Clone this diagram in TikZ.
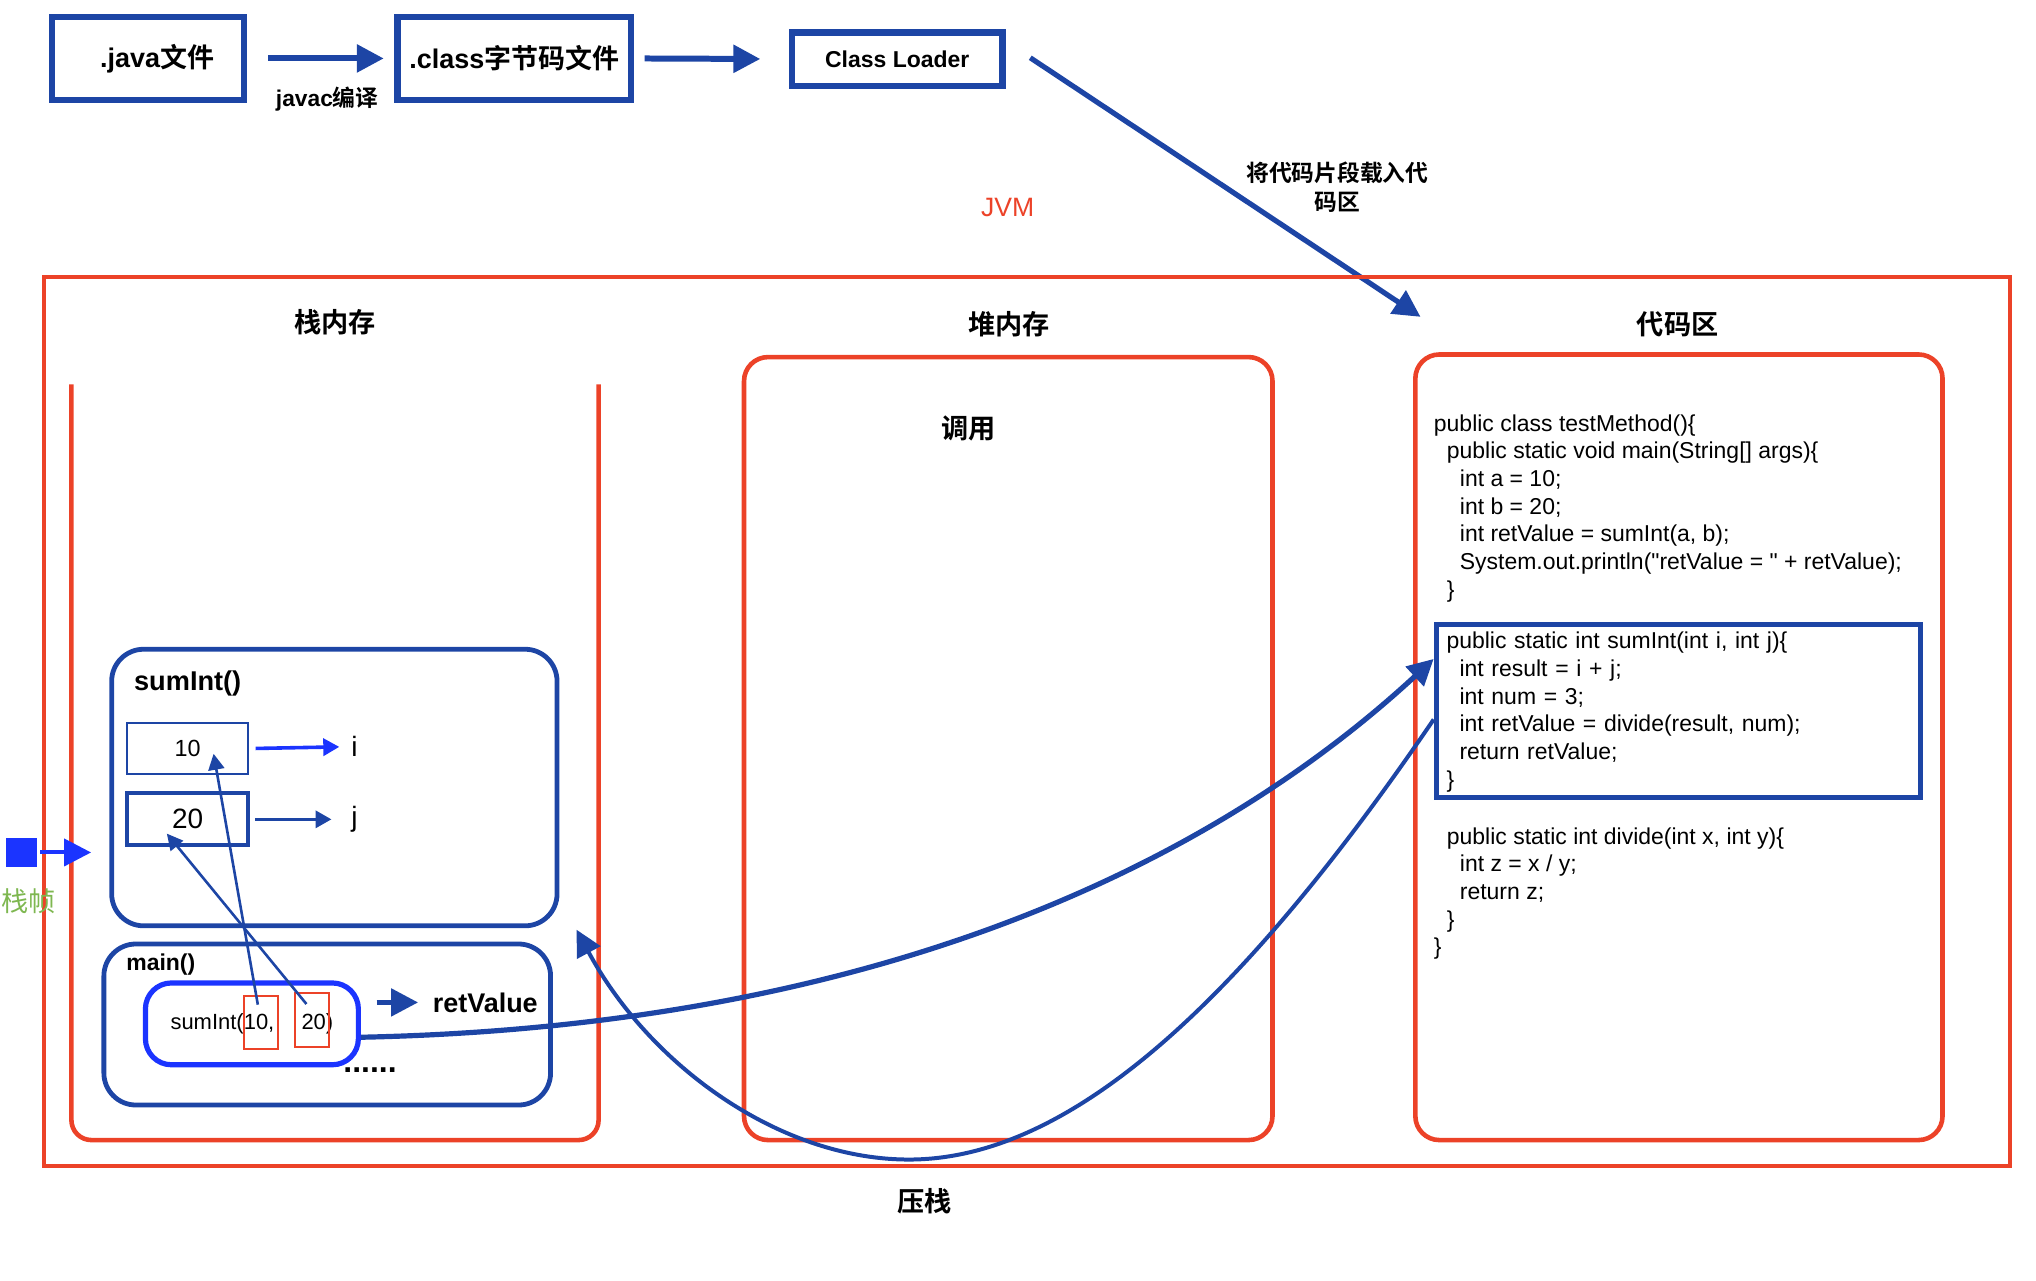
\documentclass[tikz,border=0pt]{standalone}
\usepackage{fontspec}
\setmainfont{Liberation Sans}[Ligatures=TeXOff]
\newfontfamily\cjk{Noto Sans CJK SC}[BoldFont={Noto Sans CJK SC Bold}]
\usetikzlibrary{arrows.meta,positioning,calc}
\definecolor{jvmblue}{RGB}{29,69,165}
\definecolor{callblue}{RGB}{27,52,255}
\definecolor{jvmred}{RGB}{236,66,40}
\definecolor{framegreen}{RGB}{126,183,80}
\newlength{\pxu}
\setlength{\pxu}{0.65pt}
\newcommand{\zh}[1]{{\cjk #1}}
\newcommand{\codeind}{\hspace*{6.5pt}}
\tikzset{
  jvm/file/.style={draw=jvmblue, line width=3.2pt, inner sep=0pt, font=\fontsize{13.5}{16}\selectfont\bfseries},
  jvm/region/.style={draw=jvmred, line width=2.3pt, rounded corners=12pt, inner sep=0pt},
  jvm/label/.style={inner sep=0pt, font=\fontsize{13.6}{16}\selectfont\bfseries},
  jvm/frame/.style={draw=jvmblue, line width=2.4pt, rounded corners=16pt, inner sep=0pt},
  jvm/slot/.style={draw=jvmblue, inner sep=0pt, minimum width=93\pxu},
  jvm/arg/.style={draw=jvmred, line width=1pt, inner sep=0pt, minimum width=26\pxu, minimum height=41\pxu},
  jvm/code/.style={align=left, inner sep=0pt, font=\fontsize{11.5}{13.85}\selectfont},
  jvm/flow/.style={draw=jvmblue, line width=3pt, -{Triangle[length=13.5pt,width=13.5pt]}},
  jvm/pass/.style={draw=jvmblue, line width=1.3pt, -{Triangle[length=8pt,width=8pt]}},
  jvm/bind/.style={line width=1.8pt, -{Triangle[length=8pt,width=8.5pt]}},
  jvm/call/.style={draw=jvmblue, line width=2.4pt, -{Triangle[length=13pt,width=13pt]}}
}

\begin{document}
\begin{tikzpicture}[x=0.65pt, y=-0.65pt]
  \useasboundingbox (0,0) rectangle (1568,986);

  % compile chain
  \node[jvm/file, minimum width=148\pxu, minimum height=64\pxu] (javafile) at (114,45) {\hspace*{9pt}.java\zh{文件}};
  \node[jvm/file, minimum width=180\pxu, minimum height=64\pxu] (classfile) at (396,45) {.class\zh{字节码文件}};
  \node[jvm/file, minimum width=162\pxu, minimum height=41\pxu, font=\fontsize{11.5}{14}\selectfont\bfseries] (loader) at (691,45.5) {Class Loader};
  \draw[jvm/flow, shorten <=16\pxu, shorten >=8\pxu] (javafile.east) -- (classfile.west);
  \draw[jvm/flow, shorten <=8\pxu, shorten >=22\pxu] (classfile.east) -- (loader.west);
  \node[jvm/label, font=\fontsize{11.4}{14}\selectfont\bfseries] (javac) at (252,76) {javac\zh{编译}};

  \coordinate (loadin) at (1094,244);
  \draw[jvm/flow, line width=2.6pt] ([xshift=19\pxu,yshift=1\pxu]loader.east) -- (loadin);
  \node[jvm/label, align=center, font=\fontsize{11.4}{14.3}\selectfont\bfseries] (loadtxt) at (1030,144) {\zh{将代码片段载入代}\\\zh{码区}};
  \node[inner sep=0pt, text=jvmred, font=\fontsize{13.3}{16}\selectfont] (jvmtxt) at (776,160) {JVM};

  % jvm memory areas
  \node[draw=jvmred, line width=2pt, inner sep=0pt, minimum width=1514\pxu, minimum height=685\pxu] (jvmarea) at (791,555.5) {};
  \draw[jvmred, line width=2.3pt, rounded corners=10pt] (55,296) |- (461,878) -- (461,296);
  \node[jvm/region, minimum width=407\pxu, minimum height=603\pxu] (heap) at (776.5,576.5) {};
  \node[jvm/region, minimum width=406\pxu, minimum height=605\pxu] (codearea) at (1293,575.5) {};
  \node[jvm/label] (stacktxt) at (258,248) {\zh{栈内存}};
  \node[jvm/label] (heaptxt) at (777,250) {\zh{堆内存}};
  \node[jvm/label] (codetxt) at (1292,250) {\zh{代码区}};
  \node[jvm/label] (calltxt) at (746,330) {\zh{调用}};
  \node[jvm/label] (pushtxt) at (712,925) {\zh{压栈}};

  % code area
  \node[jvm/code, anchor=north west] (code1) at (1104,319) {public class testMethod()\{\\
    \codeind public static void main(String[] args)\{\\
    \codeind\codeind int a = 10;\\
    \codeind\codeind int b = 20;\\
    \codeind\codeind int retValue = sumInt(a, b);\\
    \codeind\codeind System.out.println("retValue = " + retValue);\\
    \codeind\}};
  \node[jvm/code, draw=jvmblue, line width=2.5pt, inner xsep=5.2pt, text width=232pt, minimum height=133\pxu] (sumcode) at (1292.5,547.5) {\rule{0pt}{9.5pt}public static int sumInt(int i, int j)\{\\
    \codeind int result = i + j;\\
    \codeind int num = 3;\\
    \codeind int retValue = divide(result, num);\\
    \codeind return retValue;\\
    \}};
  \node[jvm/code, anchor=north west] (code3) at (1104,637) {\codeind public static int divide(int x, int y)\{\\
    \codeind\codeind int z = x / y;\\
    \codeind\codeind return z;\\
    \codeind\}\\
    \}};

  % stack frames
  \node[jvm/frame, minimum width=343\pxu, minimum height=213\pxu] (sumframe) at (257.5,606.5) {};
  \node[jvm/label, anchor=west] (sumname) at (103,526) {sumInt()};
  \node[jvm/slot, line width=1.2pt, minimum height=39\pxu, font=\fontsize{11.7}{14}\selectfont] (v10) at (144.5,576.5) {10};
  \node[jvm/slot, line width=2pt, minimum height=40\pxu, font=\fontsize{14}{16}\selectfont] (v20) at (144.5,631) {20};
  \node[inner sep=0pt, font=\fontsize{14}{16}\selectfont] (ni) at (273,575) {i};
  \node[inner sep=0pt, font=\fontsize{14}{16}\selectfont] (nj) at (273,631) {j};
  \draw[jvm/bind, draw=callblue, shorten <=5\pxu, shorten >=9\pxu] (v10.east) -- (ni.west);
  \draw[jvm/bind, draw=jvmblue, shorten <=4\pxu, shorten >=15\pxu] (v20.east) -- (nj.west);

  \node[jvm/frame, minimum width=344\pxu, minimum height=124\pxu] (mainframe) at (252,789) {};
  \node[jvm/label, anchor=west, font=\fontsize{11.5}{14}\selectfont\bfseries] (mainname) at (97,743) {main()};
  \node[draw=callblue, line width=2.6pt, rounded corners=13pt, inner sep=0pt, minimum width=164\pxu, minimum height=63\pxu, font=\fontsize{11}{13}\selectfont] (callbox) at (194,788.5) {sumInt(10,\hspace{13.6pt}20)};
  \node[jvm/arg] (arg10) at (201,787.5) {};
  \node[jvm/arg] (arg20) at (240,785.5) {};
  \node[jvm/label, anchor=west, font=\fontsize{13.5}{16}\selectfont\bfseries] (ret) at (333,772) {retValue};
  \node[jvm/label, font=\fontsize{16}{18}\selectfont\bfseries] (dots) at (285,824) {......};
  \draw[jvm/flow, line width=2.6pt, shorten <=12\pxu, shorten >=11\pxu] (ret.west -| callbox.east) -- (ret.west);
  \draw[jvm/pass, shorten <=14\pxu] (arg10.center) -- ($(v10.center)+(20,4)$);
  \draw[jvm/pass] ($(arg20.north)+(-4,9)$) -- ($(v20.center)+(-16,11)$);

  % stack frame marker
  \node[fill=callblue, inner sep=0pt, minimum width=24\pxu, minimum height=22\pxu] (flag) at (16.5,656.5) {};
  \node[inner sep=0pt, text=framegreen, font=\fontsize{13.6}{16}\selectfont] (flagtxt) at (22,694) {\zh{栈帧}};
  \draw[jvm/flow, draw=callblue, line width=2pt, shorten <=2\pxu, shorten >=14\pxu] (flag.east) -- (flag.east -| sumframe.west);

  % call and return
  \coordinate (pushin) at (444,716);
  \draw[jvm/call, line width=2.6pt] (callbox.-7) .. controls (700,790) and (950,650) .. (sumcode.168);
  \draw[jvm/call, line width=2pt] (sumcode.182) .. controls (950,780) and (820,893) .. (700,893) .. controls (600,893) and (500,820) .. (pushin);
\end{tikzpicture}
\end{document}
